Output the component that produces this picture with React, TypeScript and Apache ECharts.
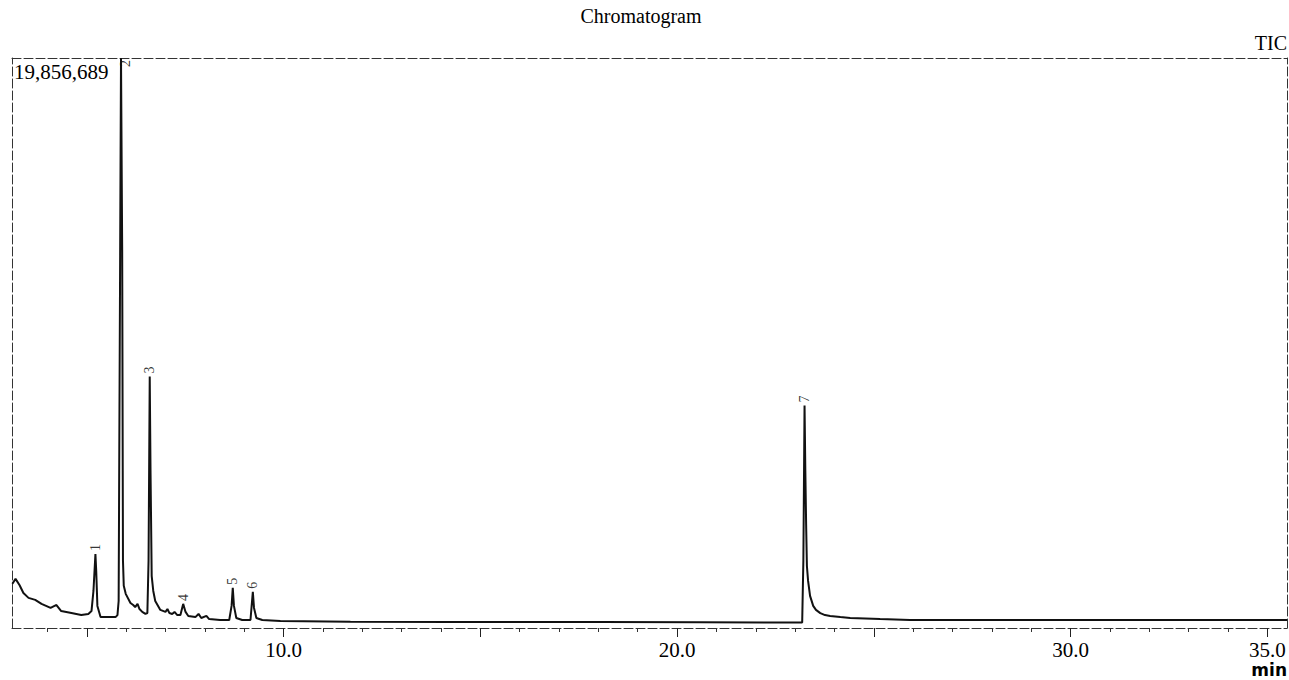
import React, { useEffect, useRef } from "react";
import * as echarts from "echarts";

// Retention time (min) and TIC intensity (millions of counts)
const times = [
  3.11, 3.19, 3.29, 3.39, 3.52, 3.69, 3.85, 4.08, 4.18, 4.23, 4.35, 4.61, 4.86, 5.04, 5.12, 5.17,
  5.22, 5.24, 5.27, 5.35, 5.55, 5.73, 5.78, 5.81, 5.87, 5.9, 5.92, 5.94, 5.99, 6.11, 6.18, 6.23,
  6.29, 6.34, 6.41, 6.49, 6.54, 6.57, 6.6, 6.62, 6.65, 6.69, 6.74, 6.87, 7.0, 7.05, 7.1, 7.17,
  7.23, 7.3, 7.38, 7.45, 7.51, 7.58, 7.76, 7.84, 7.91, 8.04, 8.11, 8.39, 8.62, 8.68, 8.71, 8.74,
  8.8, 8.95, 9.16, 9.19, 9.22, 9.25, 9.31, 9.46, 9.92, 11.7, 14.24, 15.89, 18.05, 20.59, 22.88,
  23.18, 23.21, 23.24, 23.26, 23.28, 23.3, 23.33, 23.38, 23.46, 23.53, 23.64, 23.76, 23.89,
  24.15, 24.4, 25.16, 25.92, 28.21, 30.75, 33.29, 35.5,
];
const intensities = [
  1.54, 1.71, 1.5, 1.22, 1.05, 0.98, 0.84, 0.7, 0.77, 0.8, 0.59, 0.52, 0.45, 0.49, 0.59, 1.29,
  2.58, 1.99, 0.77, 0.38, 0.38, 0.38, 0.45, 0.94, 19.856689, 13.16, 2.34, 1.47, 1.19, 0.87, 0.8, 0.73,
  0.84, 0.66, 0.56, 0.49, 0.52, 2.34, 8.76, 5.48, 1.81, 1.29, 0.94, 0.63, 0.56, 0.66, 0.52, 0.49,
  0.56, 0.45, 0.45, 0.84, 0.56, 0.42, 0.38, 0.49, 0.35, 0.42, 0.31, 0.28, 0.28, 0.77, 1.4, 0.77,
  0.35, 0.28, 0.28, 0.77, 1.26, 0.7, 0.35, 0.28, 0.24, 0.22, 0.21, 0.21, 0.21, 0.2, 0.19,
  0.19, 2.34, 7.75, 5.48, 3.63, 2.16, 1.64, 1.12, 0.77, 0.63, 0.52, 0.45, 0.42,
  0.38, 0.35, 0.31, 0.28, 0.28, 0.28, 0.28, 0.28,
];

// Peak annotations
const peakNames = ["1", "2", "3", "4", "5", "6", "7"];
const peakTimes = [5.22, 5.87, 6.6, 7.45, 8.71, 9.22, 23.24];
const peakHeights = [2.58, 19.856689, 8.76, 0.84, 1.4, 1.26, 7.75];

// Axis
const xMin = 3.1;
const xMax = 35.5;
const yMax = 19.856689;
const minorTickValues = [4, 6, 7, 8, 9, 11, 12, 13, 14, 16, 17, 18, 19, 21, 22, 23, 24, 26, 27, 28, 29, 31, 32, 33, 34];
const majorTickValues = [5, 10, 15, 20, 25, 30, 35];
const labelValues = [10, 20, 30, 35];

const SERIF = "'Liberation Serif', 'Times New Roman', serif";

export default function App() {
  const ref = useRef<HTMLDivElement>(null);
  useEffect(() => {
    if (!ref.current) return;
    const chart = echarts.init(ref.current, null, { renderer: "svg" });
    const lineData = times.map((t, i) => [t, intensities[i]]);
    const peakData = peakTimes.map((t, i) => {
      const item: any = { value: [t, peakHeights[i]], name: peakNames[i] };
      if (peakNames[i] === "2") {
        item.label = { offset: [-12, 4] };
      }
      return item;
    });
    const borderLine = { show: true, lineStyle: { color: "#333", width: 1, type: [9, 3] } };
    chart.setOption({
      animation: false,
      backgroundColor: "#fff",
      title: [
        {
          text: "Chromatogram",
          left: 641,
          top: 6,
          textAlign: "center",
          padding: 0,
          textStyle: { fontFamily: SERIF, fontSize: 20, fontWeight: "normal", color: "#000" },
        },
        {
          text: "TIC",
          right: 2,
          top: 33,
          padding: 0,
          textStyle: { fontFamily: SERIF, fontSize: 20, fontWeight: "normal", color: "#000" },
        },
        {
          text: "19,856,689",
          left: 14,
          top: 61,
          padding: 0,
          textStyle: { fontFamily: SERIF, fontSize: 21, fontWeight: "normal", color: "#000" },
        },
        {
          text: "min",
          right: 2,
          top: 661,
          padding: 0,
          textStyle: { fontFamily: "'DejaVu Sans', Arial, sans-serif", fontSize: 17, fontWeight: "bold", color: "#000" },
        },
      ],
      grid: { left: 12, right: 2, top: 58, bottom: 52, containLabel: false },
      xAxis: [
        {
          type: "value",
          min: xMin,
          max: xMax,
          position: "bottom",
          axisLine: borderLine,
          axisTick: { show: true, customValues: minorTickValues, length: 4, lineStyle: { color: "#333", width: 1 } },
          axisLabel: { show: false },
          splitLine: { show: false },
        },
        {
          type: "value",
          min: xMin,
          max: xMax,
          position: "bottom",
          axisLine: { show: false },
          axisTick: { show: true, customValues: majorTickValues, length: 9, lineStyle: { color: "#222", width: 1 } },
          axisLabel: {
            show: true,
            customValues: labelValues,
            formatter: (v: number) => v.toFixed(1),
            fontFamily: SERIF,
            fontSize: 21,
            color: "#000",
            margin: 11,
          },
          splitLine: { show: false },
        },
        {
          type: "value",
          min: xMin,
          max: xMax,
          position: "top",
          axisLine: borderLine,
          axisTick: { show: false },
          axisLabel: { show: false },
          splitLine: { show: false },
        },
      ],
      yAxis: [
        {
          type: "value",
          min: 0,
          max: yMax,
          position: "left",
          axisLine: borderLine,
          axisTick: { show: false },
          axisLabel: { show: false },
          splitLine: { show: false },
        },
        {
          type: "value",
          min: 0,
          max: yMax,
          position: "right",
          axisLine: borderLine,
          axisTick: { show: false },
          axisLabel: { show: false },
          splitLine: { show: false },
        },
      ],
      series: [
        {
          type: "line",
          xAxisIndex: 0,
          yAxisIndex: 0,
          data: lineData,
          showSymbol: false,
          symbol: "none",
          clip: true,
          lineStyle: { color: "#111", width: 2 },
        },
        {
          type: "scatter",
          xAxisIndex: 0,
          yAxisIndex: 0,
          data: peakData,
          symbolSize: 0,
          label: {
            show: true,
            formatter: (p: any) => p.name,
            position: "top",
            distance: 3,
            align: "left",
            verticalAlign: "middle",
            rotate: 90,
            fontFamily: SERIF,
            fontSize: 14,
            color: "#000",
          },
        },
      ],
    });
    return () => chart.dispose();
  }, []);
  return <div ref={ref} style={{ position: "fixed", left: 0, top: 0, width: 1289, height: 680 }} />;
}
